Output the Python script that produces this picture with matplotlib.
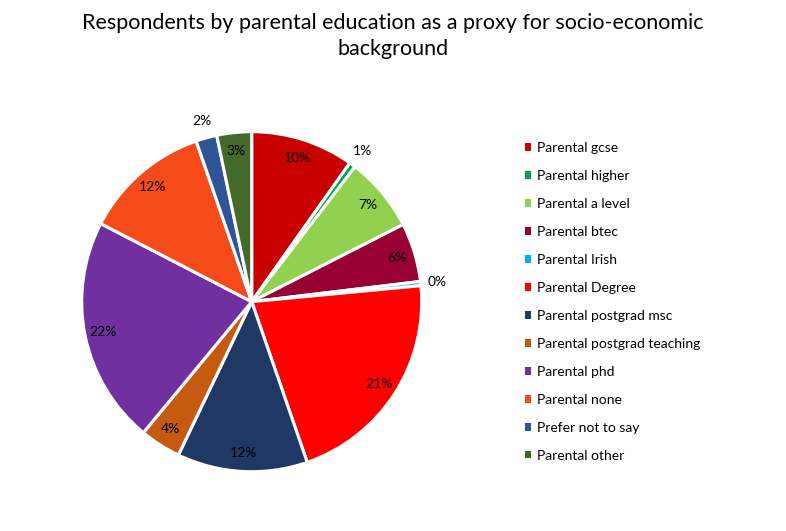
import numpy as np
import matplotlib
matplotlib.use("Agg")
import matplotlib.pyplot as plt
from matplotlib.patches import Patch

plt.rcParams['font.family'] = ['Lato', 'DejaVu Sans']

categories = ["Parental gcse", "Parental higher", "Parental a level", "Parental btec",
              "Parental Irish", "Parental Degree", "Parental postgrad msc",
              "Parental postgrad teaching", "Parental phd", "Parental none",
              "Prefer not to say", "Parental other"]
values = [9.8, 0.6, 7.1, 5.6, 0.4, 21.2, 12.4, 3.9, 21.6, 12.1, 2.0, 3.3]
colors = ["#C90000", "#00A650", "#92D050", "#990033", "#00B0F0", "#FF0000",
          "#203864", "#C55A11", "#7030A0", "#F54B1A", "#2F5597", "#436A2B"]
outside = {"Parental higher", "Parental Irish", "Prefer not to say"}

fig = plt.figure(figsize=(7.86, 5.31), dpi=100)
ax = fig.add_axes([81.7/786, 1 - 471.7/531, 340/786, 340/531])

wedges, _ = ax.pie(values, colors=colors, startangle=90, counterclock=False,
                   wedgeprops=dict(edgecolor="white", linewidth=2.2))
ax.set_xlim(-1, 1)
ax.set_ylim(-1, 1)
ax.set_aspect("equal")

total = sum(values)
for w, cat, v in zip(wedges, categories, values):
    mid = np.deg2rad((w.theta1 + w.theta2) / 2)
    r = 1.10 if cat in outside else 0.89
    ax.text(r * np.cos(mid), r * np.sin(mid), f"{round(v / total * 100):.0f}%",
            ha="center", va="center", fontsize=10, color="#000000", clip_on=False)

fig.text(0.5, 1 - 23/531, "Respondents by parental education as a proxy for socio-economic",
         ha="center", va="center", fontsize=15.5, color="#000000")
fig.text(0.5, 1 - 49/531, "background", ha="center", va="center", fontsize=15.5, color="#000000")

handles = [Patch(facecolor=c, edgecolor="none") for c in colors]
leg = fig.legend(handles, categories, loc="upper left",
                 bbox_to_anchor=(525/786, 1 - 142/531), frameon=False,
                 fontsize=10, handlelength=0.45, handleheight=0.45, handletextpad=0.4,
                 labelspacing=1.15, borderaxespad=0, borderpad=0)

fig.savefig("out.png", dpi=100, facecolor="white")
